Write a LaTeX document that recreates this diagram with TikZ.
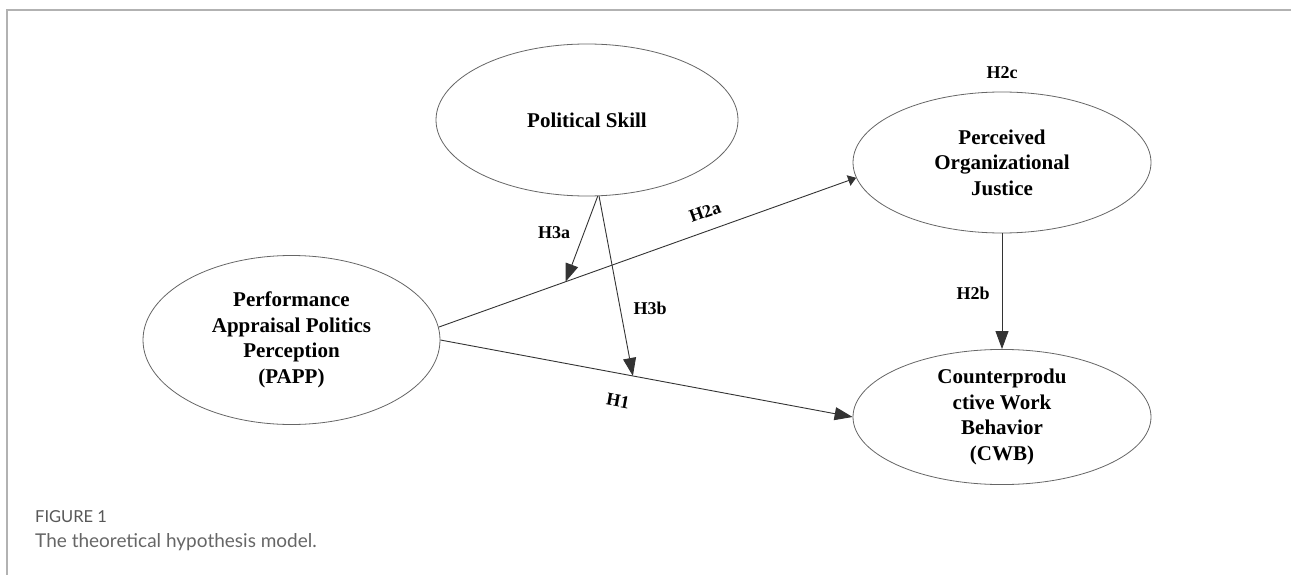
\documentclass[tikz,border=0pt]{standalone}
\usepackage{fontspec}
\setmainfont{Liberation Serif}
\newfontfamily\capfont{Lato}
\usetikzlibrary{shapes.geometric, arrows.meta, positioning, calc}

\tikzset{
  construct/.style={ellipse, draw=black!60, line width=0.8pt, fill=white, inner sep=0pt, align=center,
    font=\fontsize{21}{25.5}\selectfont\bfseries},
  hyp/.style={font=\fontsize{18}{20}\selectfont\bfseries, inner sep=0pt},
  path/.style={draw=black!80, line width=0.9pt, -{Triangle[length=18pt,width=13pt]}},
}

\begin{document}
\begin{tikzpicture}[x=1pt,y=-1pt]
  \useasboundingbox (0,0) rectangle (1291,575);
  % frame
  \draw[black!30, line width=2pt] (7,575) -- (7,10) -- (1291,10);

  \draw (587,120) node[construct, minimum width=302pt, minimum height=152pt] (ps) {Political Skill}
  (291.5,340) node[construct, minimum width=297pt, minimum height=169pt] (papp) {Performance\\Appraisal Politics\\Perception\\(PAPP)}
  (1002,162.5) node[construct, minimum width=298pt, minimum height=141pt] (poj) {Perceived\\Organizational\\Justice}
  (1002,417) node[construct, minimum width=298pt, minimum height=134pt] (cwb) {Counterprodu\\ctive Work\\Behavior\\(CWB)};

  \coordinate (ma) at ($(papp.5)!0.304!(poj.186)$);
  \coordinate (mb) at ($(papp.east)!0.467!(cwb.west)$);

  \draw[path] (papp.east) -- (cwb.west);
  \draw[path, -{Triangle[length=8pt,width=11pt]}] (papp.5) -- (poj.186);
  \draw[path] (ps.-82) -- (ma);
  \draw[path] (ps.-81) -- (mb);
  \draw[path] (poj.south) -- (cwb.north);

  \draw (554,233) node[hyp] (h3a) {H3a}
  (650,308) node[hyp] (h3b) {H3b}
  (705,212) node[hyp, rotate=19.7] (h2a) {H2a}
  (618,401) node[hyp, rotate=-10.6] (h1) {H1}
  (973,293) node[hyp] (h2b) {H2b}
  (1002,73) node[hyp] (h2c) {H2c};

  % caption
  \node[anchor=west, inner sep=0pt, text=black!66, font=\capfont\fontsize{16.5}{18}\selectfont] (fig) at (35,517) {FIGURE 1};
  \node[anchor=west, inner sep=0pt, text=black!60, font=\capfont\fontsize{19}{22}\selectfont] (cap) at (35,542) {The theoretical hypothesis model.};
\end{tikzpicture}
\end{document}
